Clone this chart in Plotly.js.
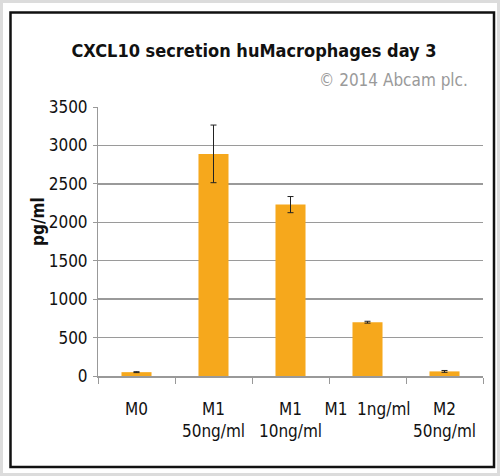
<!DOCTYPE html>
<html><head><meta charset="utf-8">
<script src="https://cdn.plot.ly/plotly-3.0.1.min.js"></script>
<style>html,body{margin:0;padding:0;background:#fff;}#chart{width:500px;height:476px;}</style>
</head><body><div id="chart"></div>
<script>
const categories = ["M0", "M1<br>50ng/ml", "M1<br>10ng/ml", "M1  1ng/ml", "M2<br>50ng/ml"];
const values = [50, 2890, 2230, 700, 60];
const errors = [6, 375, 105, 12, 12];
const yTicks = [0, 500, 1000, 1500, 2000, 2500, 3000, 3500];

const FONT = "'DejaVu Sans Condensed', 'Liberation Sans Narrow', 'Arial Narrow', sans-serif";
const L = 98, R = 17, T = 107, B = 100, W = 500, H = 476;
const pw = W - L - R, ph = H - T - B;
const px = v => (v - L) / pw;
const py = v => (H - B - v) / ph;

const data = [{
  type: 'bar', x: categories, y: values,
  marker: {color: '#F6A81C'}, width: 0.39,
  error_y: {type: 'data', array: errors, visible: true, color: '#222', thickness: 1, width: 3}
}];

const layout = {
  width: W, height: H,
  margin: {l: L, r: R, t: T, b: B},
  paper_bgcolor: '#fff', plot_bgcolor: '#fff',
  showlegend: false,
  font: {family: FONT, color: '#111'},
  xaxis: {
    type: 'category', showline: true, linecolor: '#999', linewidth: 1.5,
    ticks: 'outside', tickson: 'boundaries', ticklen: 6, tickcolor: '#999',
    tickangle: 0, ticklabelstandoff: 17,
    tickfont: {size: 17, family: FONT, color: '#111'}, showgrid: false, zeroline: false
  },
  yaxis: {
    range: [0, 3500], tickvals: yTicks, ticktext: yTicks.map(String),
    showline: true, linecolor: '#999', linewidth: 1,
    ticks: 'outside', ticklen: 4, tickcolor: '#999', ticklabelstandoff: 2,
    gridcolor: '#9a9a9a', gridwidth: 1.5, zeroline: false,
    tickfont: {size: 17, family: FONT, color: '#111'}
  },
  title: {text: 'CXCL10 secretion huMacrophages day 3', x: 254 / W, xanchor: 'center',
          y: 1 - 51 / H, yanchor: 'middle', font: {size: 18, family: FONT, color: '#111', weight: 'bold'}},
  annotations: [
    {text: '© 2014 Abcam plc.', xref: 'paper', yref: 'paper', x: px(393), y: py(80),
     xanchor: 'center', yanchor: 'middle', showarrow: false,
     font: {size: 17, family: FONT, color: '#9a9a9a'}},
    {text: '<b>pg/ml</b>', xref: 'paper', yref: 'paper', x: px(38), y: py(222),
     xanchor: 'center', yanchor: 'middle', showarrow: false, textangle: -90,
     font: {size: 17, family: FONT, color: '#111'}}
  ],
  shapes: [
    {type: 'rect', xref: 'paper', yref: 'paper', x0: px(1.5), x1: px(498.5), y0: py(474.5), y1: py(1.5),
     line: {color: '#dcdcdc', width: 3}},
    {type: 'rect', xref: 'paper', yref: 'paper', x0: px(10.5), x1: px(494), y0: py(467), y1: py(12.5),
     line: {color: '#111', width: 2.5}}
  ]
};

Plotly.newPlot('chart', data, layout, {displayModeBar: false, staticPlot: true});
</script></body></html>
